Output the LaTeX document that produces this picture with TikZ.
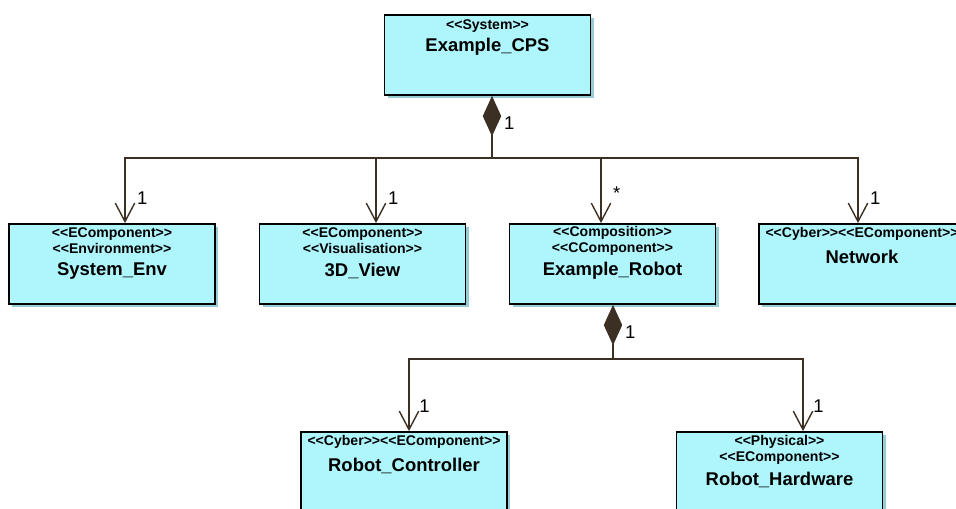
\documentclass[tikz,border=0pt]{standalone}
\usepackage{fontspec}
\setmainfont{Liberation Sans}[Ligatures=TeXOff]
\usetikzlibrary{arrows.meta, positioning, calc, shadows}

\definecolor{boxfill}{RGB}{174,246,252}
\definecolor{boxshade}{RGB}{150,205,212}
\definecolor{linkcol}{RGB}{60,48,36}

\begin{document}
\begin{tikzpicture}[x=0.02cm, y=-0.02cm,
  block/.style={rectangle,draw=black,line width=1pt,fill=boxfill, minimum width=4.12cm,minimum height=1.6cm,inner sep=0pt, drop shadow={shadow xshift=1.8pt,shadow yshift=-1.8pt,fill=boxshade,opacity=1}},
  stereo/.style={font=\fontsize{8}{9}\selectfont\bfseries,align=center,inner sep=0pt},
  cname/.style={font=\fontsize{10.5}{12}\selectfont\bfseries,inner sep=0pt},
  mult/.style={font=\fontsize{10.5}{12}\selectfont,inner sep=0pt},
  comp/.style={draw=linkcol,line width=0.8pt,{Diamond[length=23pt,width=10.5pt,fill=linkcol]}-},
  nav/.style={draw=linkcol,line width=0.8pt,-{Straight Barb[length=10.5pt,width=11pt]}}
]
  \useasboundingbox (0,0) rectangle (956,509);

  % boxes
  \node[block] (cps)   at (487.5,55) {};
  \node[block] (env)   at (112,264)  {};
  \node[block] (view)  at (362.5,264){};
  \node[block] (robot) at (612.5,264){};
  \node[block] (net)   at (862,264)  {};
  \node[block] (ctrl)  at (404,472)  {};
  \node[block] (hw)    at (779.5,472){};

  % stereotypes and names
  \node[stereo](cps-st)   at (487.5,26) {<<System>>};
  \node[cname] (cps-nm)   at (487.5,47) {Example\_CPS};
  \node[stereo](env-st)   at (112,241)  {<<EComponent>>\\<<Environment>>};
  \node[cname] (env-nm)   at (112,271)  {System\_Env};
  \node[stereo](view-st)  at (362.5,241){<<EComponent>>\\<<Visualisation>>};
  \node[cname] (view-nm)  at (362.5,271){3D\_View};
  \node[stereo](robot-st) at (612.5,241){<<Composition>>\\<<CComponent>>};
  \node[cname] (robot-nm) at (612.5,271){Example\_Robot};
  \node[stereo](net-st)   at (862,234)  {<<Cyber>><<EComponent>>};
  \node[cname] (net-nm)   at (862,257)  {Network};
  \node[stereo](ctrl-st)  at (404,442)  {<<Cyber>><<EComponent>>};
  \node[cname] (ctrl-nm)  at (404,466)  {Robot\_Controller};
  \node[stereo](hw-st)    at (779.5,450){<<Physical>>\\<<EComponent>>};
  \node[cname] (hw-nm)    at (779.5,480){Robot\_Hardware};

  % composition of Example_CPS
  \coordinate (bus1) at (492,158);
  \draw[comp] (bus1 |- cps.south) -- node[mult,at start,anchor=west,xshift=6.5pt,yshift=-15.5pt]{1} (bus1);
  \draw[nav] (bus1) -| node[mult,at end,anchor=west,xshift=6.5pt,yshift=14pt]{1} ($(env.north)+(13,0)$);
  \draw[nav] (bus1) -| node[mult,at end,anchor=west,xshift=6.5pt,yshift=14pt]{1} ($(view.north)+(13.5,0)$);
  \draw[nav] (bus1) -| node[mult,at end,anchor=west,xshift=6.5pt,yshift=17pt]{*} ($(robot.north)+(-11.5,0)$);
  \draw[nav] (bus1) -| node[mult,at end,anchor=west,xshift=6.5pt,yshift=14pt]{1} ($(net.north)+(-4,0)$);

  % composition of Example_Robot
  \coordinate (bus2) at (613,359);
  \draw[comp] (bus2 |- robot.south) -- node[mult,at start,anchor=west,xshift=6.5pt,yshift=-15.5pt]{1} (bus2);
  \draw[nav] (bus2) -| node[mult,at end,anchor=west,xshift=5.5pt,yshift=14pt]{1} ($(ctrl.north)+(5,0)$);
  \draw[nav] (bus2) -| node[mult,at end,anchor=west,xshift=5.5pt,yshift=14pt]{1} ($(hw.north)+(23.5,0)$);
\end{tikzpicture}
\end{document}
